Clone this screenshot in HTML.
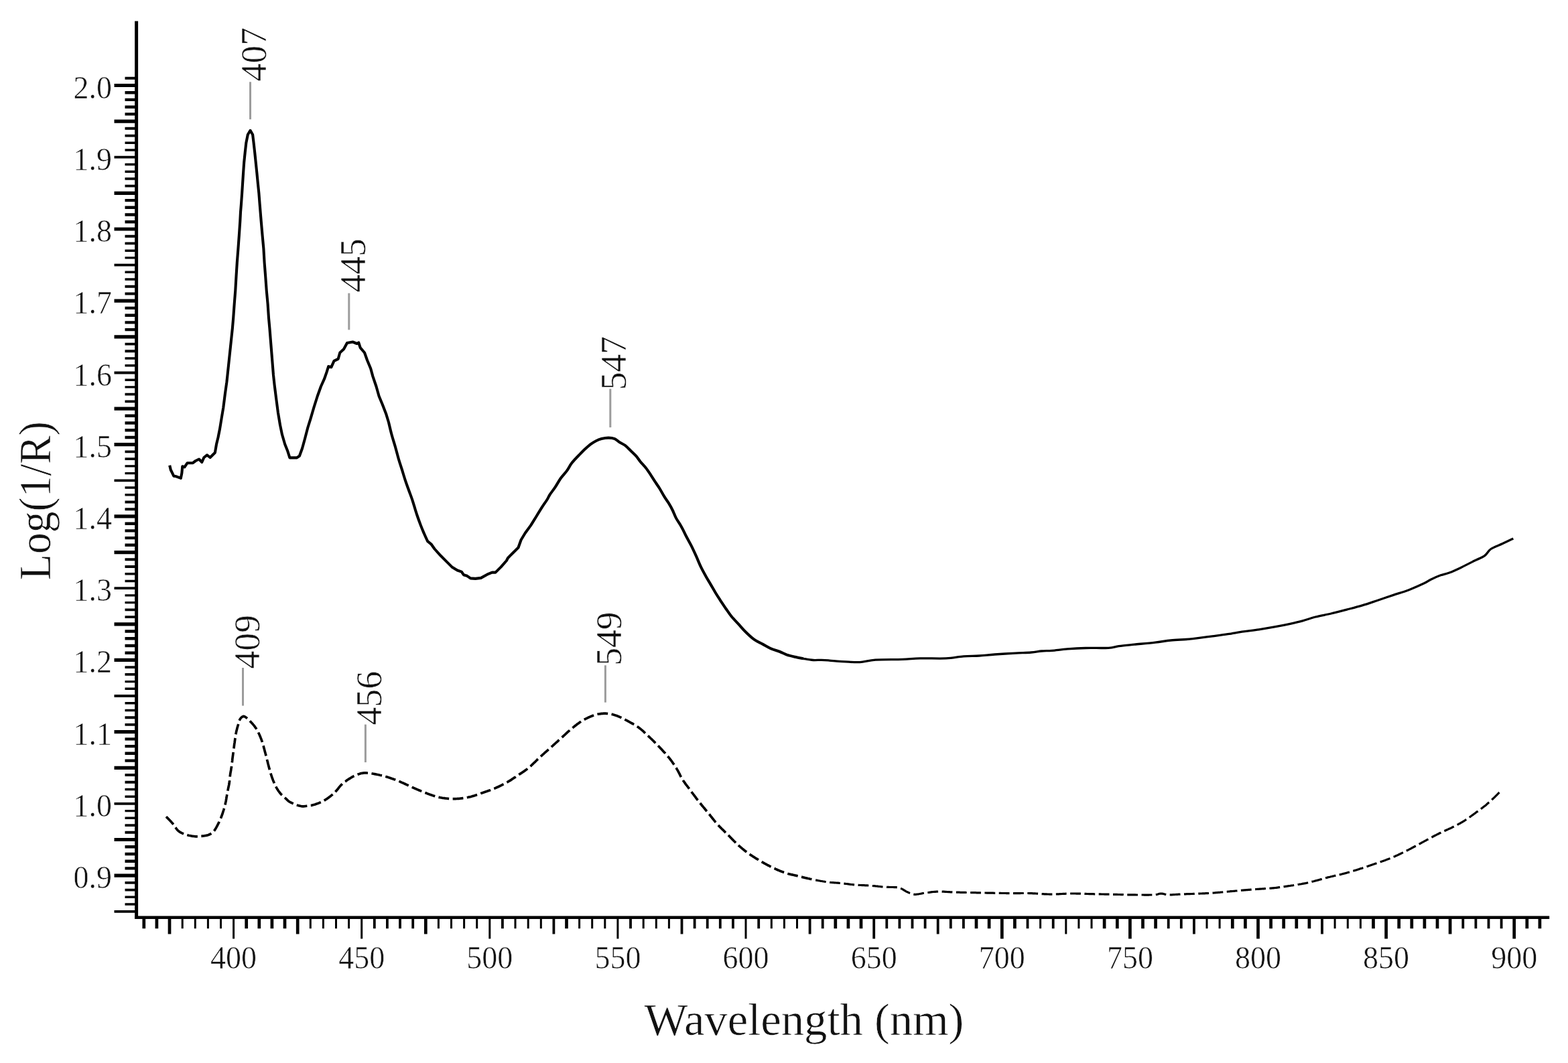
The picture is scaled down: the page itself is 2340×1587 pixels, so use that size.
<!DOCTYPE html>
<html lang="en"><head><meta charset="utf-8"><title>Log(1/R) vs Wavelength</title>
<style>
html,body{margin:0;padding:0;background:#fff;}
body{width:2340px;height:1587px;overflow:hidden;}
svg{display:block;}
text{font-family:"Liberation Serif","DejaVu Serif",serif;fill:#111;}
text{stroke:#fff;stroke-linejoin:round;}
.tk{font-size:49.5px;stroke-width:0.6;}
.an{font-size:54.5px;stroke-width:0.6;}
.ti{font-size:67px;stroke-width:0.6;}
</style></head><body>
<svg width="2340" height="1587" viewBox="0 0 2340 1587">
<rect width="2340" height="1587" fill="#fff"/>
<g stroke="#000" fill="none" stroke-linecap="butt">
<path d="M203.6 31.4 V1372.1" stroke-width="5.0"/>
<path d="M201.1 1369.8 H2312.2" stroke-width="4.6"/>
<path d="M170.5 1360.8H203.6M170.5 1199.9H203.6M170.5 1039.0H203.6M170.5 878.2H203.6M170.5 717.3H203.6M170.5 556.5H203.6M170.5 395.6H203.6M170.5 234.7H203.6" stroke-width="3.8"/>
<path d="M170.5 1307.1H203.6M170.5 1253.5H203.6M170.5 1146.3H203.6M170.5 1092.7H203.6M170.5 985.4H203.6M170.5 931.8H203.6M170.5 824.6H203.6M170.5 770.9H203.6M170.5 663.7H203.6M170.5 610.1H203.6M170.5 502.8H203.6M170.5 449.2H203.6M170.5 342.0H203.6M170.5 288.4H203.6M170.5 181.1H203.6M170.5 127.5H203.6" stroke-width="5.2"/>
<path d="M186.5 1328.6H203.6M186.5 1317.9H203.6M186.5 1242.8H203.6M186.5 1232.1H203.6M186.5 1167.7H203.6M186.5 1157.0H203.6M186.5 1081.9H203.6M186.5 1071.2H203.6M186.5 1006.9H203.6M186.5 996.1H203.6M186.5 921.1H203.6M186.5 910.4H203.6M186.5 846.0H203.6M186.5 835.3H203.6M186.5 760.2H203.6M186.5 749.5H203.6M186.5 685.1H203.6M186.5 674.4H203.6M186.5 599.4H203.6M186.5 588.6H203.6M186.5 524.3H203.6M186.5 513.6H203.6M186.5 438.5H203.6M186.5 427.8H203.6M186.5 363.4H203.6M186.5 352.7H203.6M186.5 277.6H203.6M186.5 266.9H203.6M186.5 202.6H203.6M186.5 191.8H203.6M186.5 116.8H203.6" stroke-width="3.9"/>
<path d="M186.5 1350.0H203.6M186.5 1339.3H203.6M186.5 1221.3H203.6M186.5 1210.6H203.6M186.5 1189.2H203.6M186.5 1178.5H203.6M186.5 1060.5H203.6M186.5 1049.8H203.6M186.5 1028.3H203.6M186.5 1017.6H203.6M186.5 899.6H203.6M186.5 888.9H203.6M186.5 867.5H203.6M186.5 856.7H203.6M186.5 738.8H203.6M186.5 728.0H203.6M186.5 706.6H203.6M186.5 695.9H203.6M186.5 577.9H203.6M186.5 567.2H203.6M186.5 545.7H203.6M186.5 535.0H203.6M186.5 417.0H203.6M186.5 406.3H203.6M186.5 384.9H203.6M186.5 374.2H203.6M186.5 256.2H203.6M186.5 245.5H203.6M186.5 224.0H203.6M186.5 213.3H203.6" stroke-width="3.4"/>
<path d="M186.5 1296.4H203.6M186.5 1285.7H203.6M186.5 1275.0H203.6M186.5 1264.2H203.6M186.5 1135.6H203.6M186.5 1124.8H203.6M186.5 1114.1H203.6M186.5 1103.4H203.6M186.5 974.7H203.6M186.5 964.0H203.6M186.5 953.2H203.6M186.5 942.5H203.6M186.5 813.8H203.6M186.5 803.1H203.6M186.5 792.4H203.6M186.5 781.7H203.6M186.5 653.0H203.6M186.5 642.3H203.6M186.5 631.5H203.6M186.5 620.8H203.6M186.5 492.1H203.6M186.5 481.4H203.6M186.5 470.7H203.6M186.5 459.9H203.6M186.5 331.3H203.6M186.5 320.5H203.6M186.5 309.8H203.6M186.5 299.1H203.6M186.5 170.4H203.6M186.5 159.7H203.6M186.5 148.9H203.6M186.5 138.2H203.6" stroke-width="4.4"/>
<path d="M558.8 1369.8V1386.2M577.9 1369.8V1386.2M597.0 1369.8V1386.2M616.2 1369.8V1386.2M749.9 1369.8V1386.2M826.4 1369.8V1394.4M941.0 1369.8V1386.2M1017.5 1369.8V1394.4M1036.6 1369.8V1386.2M1055.7 1369.8V1386.2M1074.8 1369.8V1386.2M1093.9 1369.8V1386.2M1132.2 1369.8V1386.2M1208.6 1369.8V1394.4M1227.7 1369.8V1386.2M1304.2 1369.8V1401.4M1323.3 1369.8V1386.2M1342.4 1369.8V1386.2M1361.5 1369.8V1386.2M1380.6 1369.8V1386.2M1399.7 1369.8V1394.4M1418.8 1369.8V1386.2M1437.9 1369.8V1386.2M1533.5 1369.8V1386.2M1571.7 1369.8V1386.2M1743.7 1369.8V1386.2M1762.8 1369.8V1386.2M1781.9 1369.8V1394.4M1973.0 1369.8V1394.4M2183.3 1369.8V1386.2M2202.4 1369.8V1386.2M2221.5 1369.8V1386.2M2240.6 1369.8V1386.2" stroke-width="3.8"/>
<path d="M272.2 1369.8V1386.2M291.3 1369.8V1386.2M310.4 1369.8V1386.2M329.5 1369.8V1386.2M348.6 1369.8V1401.4M463.3 1369.8V1386.2M482.4 1369.8V1386.2M501.5 1369.8V1386.2M520.6 1369.8V1386.2M539.7 1369.8V1401.4M654.4 1369.8V1386.2M673.5 1369.8V1386.2M692.6 1369.8V1386.2M711.7 1369.8V1386.2M730.8 1369.8V1401.4M769.0 1369.8V1386.2M788.2 1369.8V1386.2M807.3 1369.8V1386.2M864.6 1369.8V1386.2M883.7 1369.8V1386.2M902.8 1369.8V1386.2M921.9 1369.8V1401.4M960.2 1369.8V1386.2M979.3 1369.8V1386.2M998.4 1369.8V1386.2M1113.0 1369.8V1401.4M1151.3 1369.8V1386.2M1170.4 1369.8V1386.2M1189.5 1369.8V1386.2M1552.6 1369.8V1386.2M1590.8 1369.8V1394.4M1609.9 1369.8V1386.2M1629.0 1369.8V1386.2M1801.0 1369.8V1386.2M1820.1 1369.8V1386.2M1992.1 1369.8V1386.2M2011.3 1369.8V1386.2M2030.4 1369.8V1386.2" stroke-width="3.0"/>
<path d="M214.8 1369.8V1386.2M233.9 1369.8V1386.2M253.0 1369.8V1394.4M367.7 1369.8V1386.2M386.8 1369.8V1386.2M405.9 1369.8V1386.2M425.0 1369.8V1386.2M444.2 1369.8V1394.4M635.3 1369.8V1394.4M845.5 1369.8V1386.2M1246.8 1369.8V1386.2M1265.9 1369.8V1386.2M1285.0 1369.8V1386.2M1457.0 1369.8V1386.2M1476.1 1369.8V1386.2M1495.3 1369.8V1401.4M1514.4 1369.8V1386.2M1648.1 1369.8V1386.2M1667.3 1369.8V1386.2M1686.4 1369.8V1401.4M1705.5 1369.8V1386.2M1724.6 1369.8V1386.2M1839.3 1369.8V1386.2M1858.4 1369.8V1386.2M1877.5 1369.8V1401.4M1896.6 1369.8V1386.2M1915.7 1369.8V1386.2M1934.8 1369.8V1386.2M1953.9 1369.8V1386.2M2049.5 1369.8V1386.2M2068.6 1369.8V1401.4M2087.7 1369.8V1386.2M2106.8 1369.8V1386.2M2125.9 1369.8V1386.2M2145.0 1369.8V1386.2M2164.1 1369.8V1394.4M2259.7 1369.8V1401.4M2278.8 1369.8V1386.2M2297.9 1369.8V1386.2" stroke-width="4.7"/>
</g>
<g class="tk" text-anchor="end">
<text transform="translate(167.0 1326.1) scale(0.930 1)">0.9</text>
<text transform="translate(167.0 1218.9) scale(0.930 1)">1.0</text>
<text transform="translate(167.0 1111.7) scale(0.930 1)">1.1</text>
<text transform="translate(167.0 1004.4) scale(0.930 1)">1.2</text>
<text transform="translate(167.0 897.2) scale(0.930 1)">1.3</text>
<text transform="translate(167.0 789.9) scale(0.930 1)">1.4</text>
<text transform="translate(167.0 682.7) scale(0.930 1)">1.5</text>
<text transform="translate(167.0 575.5) scale(0.930 1)">1.6</text>
<text transform="translate(167.0 468.2) scale(0.930 1)">1.7</text>
<text transform="translate(167.0 361.0) scale(0.930 1)">1.8</text>
<text transform="translate(167.0 253.7) scale(0.930 1)">1.9</text>
<text transform="translate(167.0 146.5) scale(0.930 1)">2.0</text>
</g>
<g class="tk" text-anchor="middle">
<text transform="translate(348.6 1446.3) scale(0.930 1)">400</text>
<text transform="translate(539.7 1446.3) scale(0.930 1)">450</text>
<text transform="translate(730.8 1446.3) scale(0.930 1)">500</text>
<text transform="translate(921.9 1446.3) scale(0.930 1)">550</text>
<text transform="translate(1113.0 1446.3) scale(0.930 1)">600</text>
<text transform="translate(1304.2 1446.3) scale(0.930 1)">650</text>
<text transform="translate(1495.3 1446.3) scale(0.930 1)">700</text>
<text transform="translate(1686.4 1446.3) scale(0.930 1)">750</text>
<text transform="translate(1877.5 1446.3) scale(0.930 1)">800</text>
<text transform="translate(2068.6 1446.3) scale(0.930 1)">850</text>
<text transform="translate(2259.7 1446.3) scale(0.930 1)">900</text>
</g>
<text class="ti" transform="translate(1200.0 1544.6) scale(1.025 1)" text-anchor="middle">Wavelength (nm)</text>
<text class="ti" transform="translate(74.6 747.5) rotate(-90) scale(0.950 1)" text-anchor="middle">Log(1/R)</text>
<g stroke="#9c9c9c" stroke-width="3.0" fill="none">
<path d="M373.5 122.3 V178.2"/>
<path d="M520.8 437.7 V492.4"/>
<path d="M910.8 580.5 V638.1"/>
<path d="M362.5 997.0 V1053.6"/>
<path d="M545.4 1081.6 V1138.1"/>
<path d="M903.4 993.3 V1048.7"/>
</g>
<g class="an">
<text transform="translate(397.3 121.5) rotate(-90) scale(0.985 1)">407</text>
<text transform="translate(544.6 436.6) rotate(-90) scale(0.985 1)">445</text>
<text transform="translate(934.4 582.3) rotate(-90) scale(0.985 1)">547</text>
<text transform="translate(386.5 998.5) rotate(-90) scale(0.985 1)">409</text>
<text transform="translate(569.0 1082.5) rotate(-90) scale(0.985 1)">456</text>
<text transform="translate(926.8 993.8) rotate(-90) scale(0.985 1)">549</text>
</g>
<g stroke="#000" fill="none" stroke-linejoin="round" stroke-linecap="butt">
<path d="M253.2 694.8L254.8 701.5L259.4 710.8L263.0 711.3L269.8 713.9L271.3 706.6L272.3 696.3L275.4 697.4L279.6 691.2L287.8 691.2L292.0 688.0L297.0 685.5L301.3 690.0L304.4 683.0L309.0 679.3L313.6 683.0L320.9 675.7L323.0 663.3L325.5 653.0L328.0 640.5L330.7 624.0L333.3 608.5L335.9 587.9L338.4 570.3L339.5 560.0L346.9 490.0L348.2 474.6L349.7 453.9L351.3 433.3L352.5 412.6L353.8 392.0L355.4 371.3L356.9 350.7L358.3 330.0L359.0 316.7L360.0 304.3L361.1 288.8L362.1 273.3L363.1 257.8L364.2 242.3L365.7 227.8L367.3 213.4L369.8 201.0L373.5 194.8L377.1 201.0L378.6 213.4L380.2 227.8L381.7 242.3L383.3 257.8L384.8 273.3L386.4 288.8L387.6 304.3L388.6 316.7L389.7 330.0L391.5 350.7L393.4 371.3L394.6 392.0L396.2 412.6L397.7 433.3L399.6 453.9L401.0 474.6L402.4 490.0L405.2 525.0L408.0 560.0L409.7 575.5L412.3 596.0L414.9 615.8L418.0 634.4L421.0 648.8L425.2 663.3L429.3 673.6L432.4 683.4L442.7 683.4L446.9 680.8L451.0 669.5L455.0 655.0L459.3 638.5L463.4 625.3L468.5 608.0L473.7 591.5L478.9 577.0L484.0 565.7L487.6 555.4L490.2 547.0L494.4 548.2L498.5 538.9L504.7 535.8L507.3 526.5L513.0 521.3L518.0 512.0L526.4 510.5L532.6 513.0L535.2 511.5L537.7 519.2L544.0 526.5L548.0 537.8L553.2 550.2L556.3 561.6L561.5 577.0L565.6 591.5L570.8 604.0L576.0 617.4L580.0 630.5C580.7 633.5 582.8 642.6 584.4 648.5C586.0 654.4 587.9 660.0 589.6 666.0C591.3 672.0 593.0 678.8 594.7 684.7C596.4 690.6 598.2 695.7 599.9 701.2C601.6 706.7 603.3 712.5 605.0 717.7C606.7 722.9 608.5 727.4 610.2 732.2C611.9 737.0 613.9 742.0 615.4 746.6C616.9 751.2 618.3 756.1 619.5 760.0C620.7 763.9 621.3 765.9 622.7 770.0C624.1 774.1 626.2 779.9 627.9 784.4C629.6 788.9 631.3 792.8 633.0 796.8C634.7 800.8 637.3 806.3 638.2 808.2L643.4 812.3L648.5 819.5L657.8 829.8L666.1 838.1L674.4 846.4L682.6 851.5L688.8 853.6L691.9 858.2L697.1 859.8L702.2 863.4L709.5 863.9L717.7 862.9L727.0 857.7L734.3 854.6L739.4 854.6L747.7 846.4L755.9 837.0L758.0 833.0L765.2 825.7L773.5 817.5L777.6 806.0L783.8 795.8L792.1 784.4C793.5 782.2 797.6 775.5 800.4 771.0C803.1 766.5 805.9 761.9 808.6 757.6C811.4 753.3 815.0 748.3 816.9 745.2C818.8 742.1 818.4 741.8 820.3 738.8C822.2 735.8 825.8 731.5 828.5 727.4C831.2 723.3 833.9 718.1 836.8 714.0C839.7 709.9 843.4 706.4 846.1 702.6C848.9 698.8 850.2 695.2 853.3 691.3C856.4 687.3 861.4 682.3 864.7 678.9C868.0 675.5 870.2 673.2 873.0 670.6C875.8 668.0 878.5 665.5 881.2 663.4C884.0 661.3 886.8 659.6 889.5 658.2C892.2 656.8 894.6 655.9 897.7 655.1C900.8 654.3 904.7 653.6 908.0 653.6C911.3 653.6 914.6 654.0 917.4 655.1C920.2 656.2 922.0 658.7 924.6 660.3C927.2 661.9 930.0 662.8 932.8 664.9C935.5 667.0 938.3 670.0 941.1 672.7C943.9 675.4 947.0 678.1 949.4 680.9C951.8 683.6 953.2 686.3 955.6 689.2C958.0 692.1 961.2 695.2 963.8 698.5C966.4 701.8 968.6 705.2 971.0 708.8C973.4 712.4 976.0 716.8 978.3 720.2C980.5 723.7 982.3 725.9 984.5 729.5C986.7 733.1 989.5 738.3 991.7 741.9C993.9 745.5 995.8 747.8 997.9 751.2C1000.0 754.6 1002.3 758.8 1004.1 762.5C1005.9 766.2 1006.7 769.3 1008.9 773.4C1011.1 777.5 1014.6 782.2 1017.2 786.9C1019.8 791.5 1022.0 796.7 1024.4 801.3C1026.8 805.9 1029.2 809.9 1031.6 814.7C1034.0 819.5 1036.5 824.9 1038.9 830.2C1041.3 835.5 1043.7 841.7 1046.1 846.7C1048.5 851.7 1050.9 855.9 1053.3 860.2C1055.7 864.5 1058.2 868.5 1060.6 872.6C1063.0 876.7 1065.4 881.0 1067.8 885.0C1070.2 889.0 1072.4 892.3 1075.0 896.3C1077.6 900.2 1080.5 904.7 1083.3 908.7C1086.1 912.7 1088.5 916.5 1091.6 920.3C1094.7 924.1 1098.5 927.8 1102.0 931.6C1105.5 935.4 1108.3 939.1 1112.3 943.0C1116.2 946.9 1121.4 951.8 1125.7 954.9C1130.0 958.0 1134.0 959.4 1138.1 961.6C1142.2 963.8 1146.2 966.4 1150.5 968.3C1154.8 970.2 1159.9 971.5 1163.9 973.0C1167.9 974.5 1170.5 976.3 1174.3 977.6C1178.1 978.9 1182.5 979.8 1186.6 980.7C1190.7 981.7 1196.9 982.9 1199.0 983.3" stroke-width="4.1"/>
<path d="M1199.0 983.3C1201.4 983.7 1209.0 985.2 1213.5 985.5C1218.0 985.8 1222.1 985.2 1225.9 985.3C1229.7 985.4 1232.8 985.6 1236.2 985.9C1239.6 986.2 1242.2 986.6 1246.5 986.9C1250.8 987.2 1255.9 987.6 1262.0 987.9C1268.1 988.2 1275.8 989.0 1283.2 988.6C1290.6 988.2 1295.9 985.9 1306.5 985.2C1317.1 984.5 1335.6 984.8 1346.7 984.4C1357.8 984.0 1362.2 983.1 1373.0 982.9C1383.8 982.6 1401.0 983.4 1411.8 982.9C1422.6 982.4 1429.8 980.4 1438.1 979.8C1446.4 979.1 1453.7 979.5 1461.4 979.0C1469.2 978.5 1475.6 977.6 1484.6 977.0C1493.6 976.4 1506.6 975.6 1515.6 975.1C1524.6 974.6 1532.3 974.5 1538.8 974.0C1545.2 973.5 1549.1 972.5 1554.3 972.0C1559.5 971.5 1563.3 971.8 1569.8 971.3C1576.2 970.8 1584.6 969.5 1593.0 968.9C1601.4 968.3 1609.8 967.8 1620.0 967.5C1630.2 967.2 1645.9 967.8 1654.2 967.3C1662.5 966.8 1663.2 965.5 1669.7 964.6C1676.2 963.8 1683.9 963.1 1692.9 962.2C1701.9 961.3 1714.9 960.1 1723.9 959.1C1732.9 958.1 1739.3 956.8 1747.1 956.0C1754.8 955.2 1763.9 955.0 1770.4 954.5C1776.9 954.0 1779.5 953.7 1785.9 952.9C1792.4 952.1 1801.4 950.8 1809.1 949.8C1816.8 948.8 1824.5 947.9 1832.3 946.7C1840.0 945.6 1847.8 944.0 1855.6 942.9C1863.3 941.8 1871.1 941.0 1878.8 939.8C1886.5 938.6 1894.2 937.3 1902.0 935.9C1909.8 934.5 1918.3 932.8 1925.3 931.3C1932.3 929.8 1937.7 928.6 1944.0 926.9C1950.3 925.2 1956.1 922.8 1963.2 921.0C1970.3 919.2 1978.8 917.8 1986.5 916.0C1994.2 914.2 2002.0 912.1 2009.7 910.1C2017.4 908.1 2025.2 906.2 2032.9 903.9C2040.7 901.6 2048.4 898.8 2056.2 896.2C2063.9 893.6 2071.7 891.0 2079.4 888.4C2087.1 885.8 2094.8 883.7 2102.6 880.7C2110.3 877.7 2120.5 873.2 2125.9 870.6C2131.3 868.0 2131.2 867.2 2135.2 865.2C2139.2 863.2 2145.4 860.5 2150.0 858.8C2154.6 857.1 2158.0 856.9 2163.0 855.0C2168.0 853.1 2173.9 850.4 2180.1 847.4C2186.3 844.4 2194.3 840.3 2200.2 837.3C2206.1 834.3 2211.6 832.6 2215.7 829.6C2219.8 826.6 2220.6 822.5 2225.0 819.5C2229.4 816.5 2236.4 814.4 2242.0 811.8C2247.6 809.2 2255.6 805.3 2258.3 804.0" stroke-width="3.3"/>
<path d="M2237.5 1183.0L2236.8 1183.7L2235.9 1184.7L2234.8 1185.8L2233.5 1187.1L2232.2 1188.4L2230.8 1189.8L2229.4 1191.2L2228.0 1192.5L2227.0 1193.4L2226.0 1194.4L2224.9 1195.4L2223.8 1196.3L2222.7 1197.3L2221.6 1198.3L2220.5 1199.3L2219.3 1200.3L2218.1 1201.4L2216.9 1202.4L2215.6 1203.4L2214.4 1204.3L2213.2 1205.3L2211.9 1206.3L2210.7 1207.2L2209.4 1208.2L2208.0 1209.2L2206.7 1210.2L2205.4 1211.2L2204.0 1212.1L2202.7 1213.1L2201.4 1214.1L2200.1 1215.0L2198.8 1215.9L2197.5 1216.9L2196.2 1217.8L2194.9 1218.7L2193.6 1219.7L2192.3 1220.6L2191.1 1221.5L2189.8 1222.4L2188.5 1223.3L2187.2 1224.1L2185.9 1225.0L2184.6 1225.8L2183.2 1226.7L2181.9 1227.5L2180.6 1228.2L2179.3 1229.0L2178.0 1229.7L2176.7 1230.4L2175.3 1231.1L2173.9 1231.9L2172.4 1232.6L2170.8 1233.4L2169.1 1234.3L2167.9 1234.9L2166.7 1235.5L2165.5 1236.1L2164.2 1236.7L2162.8 1237.3L2161.5 1237.9L2160.1 1238.5L2158.7 1239.2L2157.3 1239.8L2155.8 1240.5L2154.4 1241.1L2153.0 1241.8L2151.5 1242.5L2150.1 1243.2L2148.7 1243.8L2147.3 1244.5L2145.9 1245.2L2144.5 1245.9L2143.2 1246.6L2141.8 1247.3L2140.4 1248.0L2139.1 1248.7L2137.7 1249.5L2136.3 1250.2L2134.9 1250.9L2133.6 1251.7L2132.2 1252.4L2130.8 1253.2L2129.4 1253.9L2128.1 1254.7L2126.7 1255.4L2125.3 1256.1L2124.0 1256.9L2122.6 1257.6L2121.2 1258.3L2119.9 1259.1L2118.5 1259.8L2117.1 1260.6L2115.8 1261.3L2114.4 1262.0L2113.0 1262.8L2111.7 1263.5L2110.3 1264.3L2108.9 1265.0L2107.6 1265.7L2106.2 1266.5L2104.9 1267.2L2103.5 1267.9L2102.1 1268.6L2100.8 1269.3L2099.4 1270.0L2098.0 1270.7L2096.7 1271.4L2095.3 1272.0L2093.9 1272.7L2092.6 1273.4L2091.2 1274.0L2089.9 1274.7L2088.5 1275.3L2087.1 1276.0L2085.8 1276.6L2084.4 1277.2L2083.0 1277.8L2081.7 1278.5L2080.3 1279.1L2078.9 1279.6L2077.6 1280.2L2076.2 1280.8L2074.7 1281.4L2073.3 1282.0L2071.8 1282.5L2070.4 1283.1L2068.9 1283.6L2067.5 1284.2L2066.0 1284.7L2064.6 1285.2L2063.1 1285.8L2061.6 1286.3L2060.2 1286.8L2058.7 1287.3L2057.3 1287.8L2055.8 1288.3L2054.4 1288.8L2052.9 1289.3L2051.4 1289.8L2050.0 1290.3L2048.5 1290.8L2047.1 1291.3L2045.6 1291.8L2044.2 1292.3L2042.7 1292.8L2041.3 1293.3L2039.8 1293.8L2038.4 1294.3L2036.9 1294.8L2035.5 1295.2L2034.0 1295.7L2032.6 1296.2L2031.1 1296.6L2029.7 1297.1L2028.3 1297.6L2026.8 1298.0L2025.4 1298.5L2023.9 1298.9L2022.5 1299.4L2021.0 1299.8L2019.6 1300.3L2018.1 1300.7L2016.7 1301.1L2015.2 1301.6L2013.8 1302.0L2012.3 1302.4L2010.9 1302.8L2009.4 1303.2L2008.0 1303.6L2006.5 1304.0L2004.9 1304.4L2003.4 1304.8L2001.8 1305.2L2000.2 1305.6L1998.6 1306.0L1996.9 1306.3L1995.3 1306.7L1993.7 1307.0L1992.2 1307.4L1990.6 1307.8L1989.1 1308.1L1987.5 1308.5L1986.1 1308.8L1984.6 1309.2L1983.2 1309.5L1981.5 1309.9L1979.9 1310.4L1978.3 1310.8L1976.8 1311.2L1975.3 1311.6L1973.8 1312.1L1972.3 1312.5L1970.9 1312.9L1969.4 1313.3L1968.0 1313.7L1966.5 1314.1L1965.0 1314.5L1963.5 1314.9L1962.0 1315.3L1960.5 1315.7L1959.1 1316.0L1957.6 1316.4L1956.1 1316.8L1954.6 1317.1L1953.1 1317.5L1951.5 1317.9L1950.0 1318.2L1948.3 1318.6L1946.6 1318.9L1945.2 1319.2L1943.7 1319.4L1942.3 1319.7L1940.7 1320.0L1939.2 1320.2L1937.6 1320.5L1936.0 1320.8L1934.5 1321.0L1932.8 1321.3L1931.2 1321.5L1929.6 1321.8L1928.0 1322.0L1926.4 1322.2L1924.9 1322.5L1923.3 1322.7L1921.8 1322.9L1920.2 1323.2L1918.7 1323.4L1917.1 1323.6L1915.6 1323.8L1914.0 1324.1L1912.5 1324.3L1910.9 1324.5L1909.4 1324.7L1907.8 1324.9L1906.3 1325.1L1904.7 1325.3L1903.2 1325.5L1901.6 1325.6L1900.1 1325.8L1898.6 1325.9L1897.0 1326.1L1895.5 1326.2L1893.9 1326.3L1892.4 1326.4L1890.8 1326.5L1889.3 1326.6L1887.7 1326.7L1886.2 1326.8L1884.6 1326.9L1883.1 1327.0L1881.5 1327.1L1880.0 1327.2L1878.4 1327.3L1876.9 1327.4L1875.3 1327.5L1873.8 1327.6L1872.2 1327.7L1870.7 1327.9L1869.1 1328.0L1867.6 1328.1L1866.0 1328.2L1864.5 1328.3L1862.9 1328.4L1861.4 1328.6L1859.8 1328.7L1858.3 1328.8L1856.7 1328.9L1855.2 1329.1L1853.6 1329.2L1852.1 1329.3L1850.5 1329.5L1849.0 1329.6L1847.4 1329.7L1845.9 1329.9L1844.3 1330.0L1842.8 1330.2L1841.2 1330.3L1839.7 1330.5L1838.1 1330.6L1836.6 1330.7L1835.0 1330.9L1833.5 1331.0L1831.9 1331.2L1830.4 1331.3L1828.8 1331.4L1827.3 1331.6L1825.7 1331.7L1824.2 1331.9L1822.6 1332.0L1821.1 1332.2L1819.5 1332.3L1818.0 1332.4L1816.4 1332.6L1814.9 1332.7L1813.3 1332.8L1811.8 1333.0L1810.2 1333.1L1808.7 1333.2L1807.1 1333.3L1805.6 1333.4L1804.0 1333.5L1802.5 1333.6L1800.9 1333.6L1799.4 1333.7L1797.8 1333.8L1796.3 1333.8L1794.7 1333.9L1793.2 1334.0L1791.6 1334.0L1790.1 1334.1L1788.5 1334.1L1787.0 1334.2L1785.4 1334.2L1783.9 1334.3L1782.3 1334.4L1780.8 1334.4L1779.2 1334.5L1777.6 1334.5L1775.9 1334.6L1774.3 1334.6L1772.7 1334.7L1771.1 1334.7L1769.5 1334.8L1768.0 1334.8L1766.4 1334.9L1764.9 1334.9L1763.5 1335.0L1762.1 1335.0L1760.7 1335.1L1758.9 1335.2L1757.1 1335.3L1755.4 1335.4L1753.8 1335.5L1752.2 1335.6L1750.6 1335.7L1749.1 1335.8L1747.6 1335.9L1746.2 1335.9L1744.9 1335.9L1743.6 1335.9L1741.7 1335.7L1740.1 1335.4L1738.5 1335.1L1737.1 1334.7L1735.7 1334.3L1734.3 1334.1L1732.8 1334.0L1731.4 1334.1L1730.3 1334.3L1729.2 1334.6L1728.0 1335.0L1726.6 1335.4L1724.6 1335.7L1722.0 1335.9L1720.9 1335.9L1719.7 1336.0L1718.4 1336.0L1717.1 1336.0L1715.7 1336.0L1714.2 1336.1L1712.6 1336.1L1711.0 1336.1L1709.4 1336.1L1707.7 1336.1L1706.0 1336.0L1704.3 1336.0L1702.6 1336.0L1700.9 1336.0L1699.2 1336.0L1697.5 1336.0L1695.8 1336.0L1694.2 1335.9L1692.6 1335.9L1691.0 1335.9L1689.5 1335.9L1688.0 1335.9L1686.4 1335.8L1684.9 1335.8L1683.4 1335.8L1681.9 1335.8L1680.4 1335.7L1678.9 1335.7L1677.4 1335.7L1675.9 1335.6L1674.4 1335.6L1672.9 1335.6L1671.4 1335.5L1669.9 1335.5L1668.4 1335.5L1666.9 1335.4L1665.4 1335.4L1663.8 1335.4L1662.3 1335.3L1660.8 1335.3L1659.3 1335.3L1657.7 1335.2L1656.2 1335.2L1654.7 1335.2L1653.1 1335.2L1651.6 1335.1L1650.0 1335.1L1648.5 1335.1L1646.9 1335.0L1645.3 1335.0L1643.8 1335.0L1642.2 1334.9L1640.7 1334.9L1639.1 1334.9L1637.6 1334.9L1636.0 1334.8L1634.5 1334.8L1632.9 1334.8L1631.4 1334.7L1629.8 1334.7L1628.2 1334.7L1626.7 1334.6L1625.1 1334.6L1623.6 1334.5L1622.0 1334.5L1620.5 1334.4L1619.0 1334.4L1617.4 1334.3L1615.8 1334.3L1614.3 1334.2L1612.8 1334.2L1611.2 1334.2L1609.6 1334.1L1608.1 1334.1L1606.5 1334.1L1605.0 1334.0L1603.4 1334.0L1601.9 1334.0L1600.3 1334.0L1598.8 1334.0L1597.2 1334.0L1595.7 1334.0L1594.1 1334.1L1592.6 1334.1L1591.0 1334.2L1589.5 1334.3L1587.9 1334.4L1586.4 1334.4L1584.8 1334.5L1583.3 1334.6L1581.7 1334.7L1580.2 1334.8L1578.6 1334.8L1577.1 1334.9L1575.5 1335.0L1574.0 1335.0L1572.4 1335.1L1570.9 1335.1L1569.3 1335.1L1567.8 1335.1L1566.3 1335.1L1564.7 1335.0L1563.2 1335.0L1561.6 1334.9L1560.1 1334.9L1558.5 1334.8L1557.0 1334.7L1555.4 1334.6L1553.9 1334.5L1552.3 1334.4L1550.8 1334.3L1549.3 1334.2L1547.7 1334.1L1546.2 1334.0L1544.6 1333.9L1543.1 1333.8L1541.5 1333.8L1540.0 1333.7L1538.4 1333.6L1536.9 1333.6L1535.4 1333.6L1533.9 1333.5L1532.4 1333.5L1531.0 1333.5L1529.5 1333.5L1528.1 1333.5L1526.7 1333.5L1525.3 1333.5L1523.8 1333.5L1522.4 1333.6L1520.9 1333.6L1519.4 1333.6L1517.9 1333.6L1516.3 1333.6L1514.7 1333.6L1513.1 1333.6L1511.4 1333.6L1509.6 1333.6L1507.8 1333.6L1505.9 1333.6L1504.6 1333.6L1503.3 1333.6L1502.0 1333.6L1500.6 1333.5L1499.2 1333.5L1497.7 1333.5L1496.3 1333.5L1494.8 1333.5L1493.3 1333.4L1491.7 1333.4L1490.2 1333.4L1488.6 1333.3L1487.0 1333.3L1485.4 1333.3L1483.8 1333.3L1482.2 1333.2L1480.6 1333.2L1479.0 1333.2L1477.4 1333.1L1475.8 1333.1L1474.3 1333.1L1472.7 1333.1L1471.1 1333.0L1469.6 1333.0L1468.0 1333.0L1466.5 1332.9L1465.1 1332.9L1463.6 1332.9L1462.2 1332.9L1460.8 1332.8L1459.4 1332.8L1457.7 1332.8L1455.9 1332.7L1454.2 1332.7L1452.5 1332.7L1450.8 1332.6L1449.1 1332.6L1447.4 1332.6L1445.7 1332.5L1444.1 1332.5L1442.5 1332.5L1440.8 1332.4L1439.2 1332.4L1437.7 1332.4L1436.1 1332.3L1434.6 1332.3L1433.1 1332.3L1431.6 1332.2L1430.2 1332.2L1428.8 1332.2L1427.4 1332.1L1426.0 1332.1L1424.7 1332.1L1423.4 1332.0L1422.2 1332.0L1420.2 1331.9L1418.3 1331.8L1416.5 1331.7L1414.8 1331.6L1413.2 1331.5L1411.7 1331.4L1410.2 1331.3L1408.8 1331.2L1407.5 1331.1L1406.1 1331.1L1404.7 1331.0L1403.3 1331.0L1401.9 1331.0L1400.5 1331.0L1398.9 1331.1L1397.3 1331.1L1395.8 1331.3L1394.2 1331.4L1392.7 1331.5L1391.1 1331.7L1389.6 1331.9L1388.1 1332.1L1386.7 1332.3L1385.2 1332.5L1383.8 1332.6L1382.4 1332.8L1381.0 1333.0L1379.2 1333.2L1377.5 1333.5L1375.8 1333.9L1374.2 1334.2L1372.6 1334.5L1371.0 1334.8L1369.4 1335.0L1367.9 1335.2L1366.5 1335.3L1365.1 1335.3L1363.4 1335.1L1361.9 1334.8L1360.5 1334.4L1359.1 1333.9L1357.7 1333.4L1356.3 1332.8L1355.0 1332.1L1353.5 1331.5L1352.2 1330.9L1351.0 1330.2L1349.8 1329.4L1348.6 1328.6L1347.3 1327.8L1346.0 1327.1L1344.5 1326.4L1343.0 1325.8L1341.2 1325.3L1340.0 1325.1L1338.6 1324.9L1337.2 1324.7L1335.8 1324.6L1334.3 1324.6L1332.7 1324.5L1331.2 1324.5L1329.6 1324.5L1327.9 1324.5L1326.3 1324.4L1324.7 1324.4L1323.1 1324.4L1321.5 1324.3L1320.0 1324.2L1318.5 1324.1L1317.0 1324.0L1315.5 1323.8L1314.0 1323.7L1312.5 1323.5L1311.0 1323.4L1309.5 1323.2L1308.0 1323.0L1306.5 1322.9L1305.0 1322.7L1303.5 1322.6L1301.9 1322.5L1300.4 1322.3L1298.8 1322.2L1297.3 1322.1L1295.8 1322.0L1294.2 1321.9L1292.7 1321.9L1291.1 1321.8L1289.5 1321.7L1287.9 1321.7L1286.3 1321.6L1284.8 1321.5L1283.2 1321.5L1281.6 1321.4L1280.1 1321.3L1278.6 1321.2L1277.1 1321.1L1275.6 1321.0L1273.9 1320.9L1272.3 1320.7L1270.7 1320.5L1269.1 1320.3L1267.5 1320.1L1266.0 1319.9L1264.4 1319.7L1262.9 1319.5L1261.4 1319.3L1259.9 1319.1L1258.4 1318.9L1256.9 1318.8L1255.4 1318.6L1253.8 1318.5L1252.3 1318.3L1250.8 1318.2L1249.3 1318.1L1247.8 1318.0L1246.3 1317.9L1244.9 1317.8L1243.4 1317.7L1241.8 1317.6L1240.2 1317.5L1238.6 1317.3L1236.9 1317.1L1235.5 1316.9L1234.0 1316.7L1232.5 1316.5L1231.0 1316.3L1229.5 1316.0L1227.9 1315.8L1226.3 1315.5L1224.7 1315.3L1223.1 1315.0L1221.5 1314.7L1219.9 1314.4L1218.3 1314.1L1216.7 1313.8L1215.2 1313.5L1213.6 1313.2" stroke-width="3.2" stroke-dasharray="15.8 5.5"/>
<path d="M1213.6 1313.2L1212.0 1312.9L1210.5 1312.5L1208.9 1312.2L1207.3 1311.8L1205.7 1311.5L1204.1 1311.1L1202.5 1310.7L1200.9 1310.4L1199.3 1310.0L1197.8 1309.6L1196.3 1309.2L1194.7 1308.9L1193.3 1308.5L1191.8 1308.1L1190.4 1307.8L1188.7 1307.4L1187.0 1307.0L1185.4 1306.6L1183.9 1306.3L1182.3 1305.9L1180.8 1305.6L1179.3 1305.2L1177.8 1304.9L1176.3 1304.5L1174.8 1304.0L1173.3 1303.6L1171.8 1303.1L1170.4 1302.6L1168.9 1302.1L1167.5 1301.6L1166.1 1301.0L1164.6 1300.5L1163.2 1299.9L1161.8 1299.3L1160.4 1298.7L1158.9 1298.0L1157.5 1297.4L1156.1 1296.7L1154.6 1296.1L1153.2 1295.4L1151.9 1294.8L1150.5 1294.1L1149.2 1293.4L1147.8 1292.7L1146.5 1292.0L1145.1 1291.3L1143.8 1290.5L1142.5 1289.8L1141.1 1289.1L1139.8 1288.3L1138.5 1287.6L1137.2 1286.8L1135.9 1286.0L1134.6 1285.3L1133.2 1284.5L1131.9 1283.7L1130.5 1282.9L1129.2 1282.1L1127.9 1281.3L1126.6 1280.5L1125.3 1279.6L1124.0 1278.8L1122.7 1278.0L1121.4 1277.1L1120.1 1276.3L1118.9 1275.4L1117.6 1274.5L1116.4 1273.6L1115.1 1272.7L1113.9 1271.8L1112.7 1270.9L1111.5 1270.0L1110.3 1269.1L1109.2 1268.1L1108.0 1267.2L1106.8 1266.2L1105.6 1265.2L1104.5 1264.2L1103.3 1263.2L1102.1 1262.1L1101.0 1261.1L1099.9 1260.0L1098.8 1259.0L1097.7 1257.9L1096.6 1256.8L1095.5 1255.7L1094.3 1254.5L1093.2 1253.4L1092.1 1252.3L1091.0 1251.1L1089.9 1250.0L1088.8 1248.8L1087.7 1247.7L1086.6 1246.6L1085.5 1245.5L1084.4 1244.4L1083.2 1243.3L1082.1 1242.2L1081.0 1241.1L1079.9 1240.0L1078.8 1238.9L1077.6 1237.8L1076.5 1236.7L1075.4 1235.6L1074.3 1234.5L1073.2 1233.4L1072.2 1232.3L1071.1 1231.1L1070.1 1229.9L1069.0 1228.8L1068.0 1227.6L1067.0 1226.4L1066.0 1225.1L1065.0 1223.9L1064.1 1222.7L1063.1 1221.5L1062.1 1220.2L1061.1 1219.0L1060.2 1217.8L1059.2 1216.5L1058.2 1215.3L1057.2 1214.1L1056.2 1212.9L1055.2 1211.7L1054.2 1210.5L1053.2 1209.3L1052.2 1208.0L1051.2 1206.8L1050.2 1205.6L1049.2 1204.4L1048.2 1203.2L1047.2 1202.0L1046.2 1200.7L1045.2 1199.5L1044.2 1198.3L1043.2 1197.0L1042.3 1195.8L1041.3 1194.6L1040.4 1193.4L1039.4 1192.2L1038.5 1190.9L1037.6 1189.7L1036.6 1188.4L1035.7 1187.2L1034.8 1186.0L1033.8 1184.7L1032.9 1183.5L1032.0 1182.3L1031.2 1181.2L1030.3 1180.0L1029.5 1178.9L1028.5 1177.5L1027.5 1176.2L1026.6 1175.0L1025.6 1173.7L1024.7 1172.5L1023.8 1171.3L1022.9 1170.1L1022.1 1168.9L1021.2 1167.7L1020.4 1166.5L1019.5 1165.2L1018.7 1163.9L1017.9 1162.5L1017.1 1161.2L1016.3 1159.8L1015.5 1158.3L1014.8 1156.9L1014.1 1155.4L1013.3 1154.0L1012.6 1152.5L1011.8 1151.1L1011.0 1149.7L1010.2 1148.3L1009.4 1146.9L1008.6 1145.6L1007.7 1144.2L1006.9 1142.9L1006.0 1141.6L1005.1 1140.3L1004.2 1139.1L1003.3 1137.8L1002.4 1136.5L1001.5 1135.2L1000.5 1134.0L999.5 1132.7L998.5 1131.4L997.5 1130.2L996.5 1129.0L995.5 1127.8L994.5 1126.6L993.4 1125.4L992.4 1124.2L991.3 1123.1L990.2 1121.9L989.1 1120.7L988.0 1119.5L986.9 1118.3L985.7 1117.1L984.6 1115.9L983.5 1114.8L982.5 1113.7L981.4 1112.5L980.3 1111.4L979.2 1110.3L978.1 1109.2L977.0 1108.1L975.8 1106.9L974.7 1105.8L973.6 1104.7L972.5 1103.6L971.3 1102.5L970.2 1101.5L969.1 1100.4L967.9 1099.3L966.7 1098.1L965.5 1097.0L964.3 1095.9L963.1 1094.7L961.9 1093.6L960.8 1092.5L959.6 1091.4L958.4 1090.4L957.2 1089.4L956.0 1088.4L954.8 1087.4L953.6 1086.5L952.3 1085.6L951.0 1084.7L949.7 1083.8L948.4 1083.0L947.1 1082.2L945.9 1081.5L944.6 1080.7L943.3 1080.0L942.0 1079.3L940.7 1078.6L939.4 1077.9L938.1 1077.2L936.7 1076.4L935.3 1075.6L933.8 1074.9L932.4 1074.1L931.0 1073.3L929.5 1072.6L928.1 1071.9L926.7 1071.2L925.3 1070.6L923.9 1070.0L922.6 1069.4L921.0 1068.8L919.4 1068.2L917.8 1067.7L916.2 1067.2L914.7 1066.8L913.2 1066.4L911.7 1066.1L910.2 1065.8L908.7 1065.6L907.1 1065.4L905.5 1065.3L903.9 1065.2L902.4 1065.2L900.9 1065.2L899.4 1065.3L897.8 1065.4L896.3 1065.6L894.8 1065.8L893.3 1066.0L891.8 1066.3L890.3 1066.7L888.8 1067.1L887.2 1067.5L885.6 1068.1L883.9 1068.7L882.6 1069.2L881.3 1069.8L879.9 1070.4L878.5 1071.0L877.1 1071.7L875.6 1072.4L874.2 1073.1L872.7 1073.9L871.3 1074.7L869.8 1075.5L868.4 1076.4L867.1 1077.2L865.8 1078.1L864.5 1079.0L863.2 1079.9L861.9 1080.8L860.6 1081.8L859.4 1082.8L858.1 1083.8L856.8 1084.8L855.5 1085.9L854.2 1086.9L852.9 1088.0L851.7 1089.0L850.5 1090.0L849.3 1091.1L848.1 1092.1L846.9 1093.2L845.7 1094.3L844.5 1095.4L843.4 1096.5L842.2 1097.6L841.0 1098.7L839.8 1099.8L838.6 1100.9L837.4 1102.0L836.2 1103.1L835.0 1104.1L833.8 1105.2L832.7 1106.3L831.5 1107.4L830.3 1108.4L829.1 1109.5L827.9 1110.6L826.7 1111.6L825.6 1112.7L824.4 1113.8L823.2 1114.8L822.0 1115.9L820.8 1117.0L819.6 1118.0L818.5 1119.0L817.3 1120.1L816.2 1121.1L815.0 1122.1L813.8 1123.2L812.6 1124.2L811.5 1125.3L810.2 1126.4L809.0 1127.5L807.8 1128.6L806.5 1129.8L805.4 1130.8L804.4 1131.8L803.2 1132.9L802.1 1133.9L801.0 1135.0L799.8 1136.2L798.7 1137.3L797.5 1138.4L796.3 1139.5L795.2 1140.6L794.0 1141.7L792.9 1142.8L791.8 1143.8L790.6 1144.8L789.6 1145.7L788.5 1146.6L787.1 1147.7L785.8 1148.8L784.4 1149.7L783.1 1150.7L781.9 1151.6L780.6 1152.4L779.3 1153.3L778.1 1154.1L776.8 1154.9L775.6 1155.7L774.3 1156.5L773.0 1157.4L771.7 1158.3L770.4 1159.1L769.2 1160.0L767.9 1160.9L766.6 1161.7L765.3 1162.6L764.1 1163.4L762.8 1164.3L761.5 1165.1L760.2 1165.9L758.8 1166.7L757.5 1167.5L756.1 1168.3L754.8 1169.0L753.4 1169.8L752.0 1170.5L750.6 1171.2L749.2 1171.9L747.8 1172.6L746.3 1173.3L744.9 1174.0L743.4 1174.7L742.0 1175.3L740.5 1176.0L739.1 1176.6L737.7 1177.2L736.3 1177.7L734.9 1178.3L733.5 1178.8L732.0 1179.4L730.6 1179.9L729.1 1180.4L727.7 1181.0L726.2 1181.5L724.8 1182.0L723.3 1182.5L721.9 1183.0L720.5 1183.5L719.0 1184.0L717.6 1184.5L716.2 1185.1L714.7 1185.6L713.3 1186.1L711.9 1186.6L710.5 1187.1L709.0 1187.5L707.6 1188.0L706.2 1188.4L704.7 1188.8L703.3 1189.2L701.7 1189.6L700.2 1189.9L698.6 1190.3L697.0 1190.6L695.4 1190.9L693.8 1191.1L692.2 1191.4L690.7 1191.6L689.1 1191.8L687.6 1192.0L686.1 1192.2L684.7 1192.3L683.0 1192.4L681.4 1192.5L679.8 1192.6L678.3 1192.6L676.8 1192.6L675.2 1192.6L673.7 1192.6L672.2 1192.5L670.7 1192.4L669.2 1192.3L667.7 1192.2L666.2 1192.0L664.7 1191.9L663.2 1191.7L661.7 1191.5L660.2 1191.3L658.7 1191.0L657.1 1190.7L655.5 1190.4L653.8 1190.0L652.5 1189.7L651.1 1189.3L649.7 1188.9L648.3 1188.4L646.9 1188.0L645.4 1187.5L644.0 1187.0L642.5 1186.5L641.0 1186.0L639.6 1185.4L638.1 1184.9L636.6 1184.3L635.2 1183.8L633.8 1183.3L632.3 1182.7L630.9 1182.1L629.5 1181.5L628.0 1180.9L626.6 1180.3L625.2 1179.7L623.8 1179.1L622.3 1178.5L620.9 1177.9L619.5 1177.3L618.0 1176.6L616.6 1176.0L615.2 1175.4L613.7 1174.7L612.3 1174.1L610.9 1173.4L609.4 1172.7L608.0 1172.0L606.6 1171.4L605.2 1170.7L603.7 1170.0L602.3 1169.4L600.9 1168.7L599.4 1168.1L598.0 1167.5L596.6 1166.9L595.1 1166.3L593.7 1165.7L592.3 1165.2L590.8 1164.6L589.4 1164.0L588.0 1163.5L586.6 1162.9L585.1 1162.4L583.7 1161.9L582.3 1161.4L580.8 1161.0L579.4 1160.5L577.8 1160.0L576.3 1159.6L574.7 1159.1L573.1 1158.7L571.5 1158.3L569.9 1157.9L568.3 1157.5L566.8 1157.2L565.2 1156.8L563.7 1156.5L562.2 1156.2L560.8 1155.9L559.1 1155.6L557.4 1155.3L555.8 1155.0L554.2 1154.7L552.6 1154.5L551.0 1154.3L549.5 1154.1L548.0 1154.0L546.6 1153.9L545.3 1153.9L543.5 1153.9L541.9 1154.1L540.4 1154.3L539.0 1154.5L537.6 1154.9L536.1 1155.4L534.5 1155.9L533.2 1156.4L531.9 1156.9L530.5 1157.5L529.1 1158.2L527.7 1158.9L526.3 1159.6L524.9 1160.4L523.5 1161.3L522.1 1162.1L520.9 1162.9L519.6 1163.7L518.3 1164.6L517.1 1165.4L515.8 1166.4L514.5 1167.3L513.3 1168.3L512.1 1169.3L510.9 1170.3L509.7 1171.4L508.6 1172.5L507.5 1173.7L506.5 1174.9L505.5 1176.2L504.5 1177.5L503.5 1178.7L502.4 1180.0L501.3 1181.3L500.2 1182.6L498.9 1183.8L497.8 1184.8L496.6 1185.8L495.4 1186.9L494.1 1187.9L492.8 1189.0L491.4 1190.0L490.1 1191.0L488.7 1192.0L487.4 1192.9L486.0 1193.8L484.7 1194.6L483.4 1195.4L482.0 1196.2L480.4 1196.9L478.9 1197.6L477.3 1198.3L475.8 1198.9L474.3 1199.4L472.8 1200.0L471.4 1200.4L470.1 1200.9L468.9 1201.3L467.9 1201.6L465.5 1202.3L464.3 1202.4L462.4 1202.5L461.1 1202.7L459.6 1203.0L458.0 1203.2L456.4 1203.5L454.7 1203.7L453.0 1203.8L451.5 1203.8L449.8 1203.6L448.1 1203.3L446.5 1202.9L444.9 1202.4L443.3 1201.9L441.7 1201.3L440.3 1200.8L438.8 1200.2L437.2 1199.5L435.8 1198.9L434.4 1198.2L433.1 1197.6L432.0 1197.0L430.4 1195.9L429.3 1194.9L427.8 1193.4L426.9 1192.6L425.9 1191.7L424.7 1190.7L423.5 1189.6L422.3 1188.5L421.1 1187.4L420.0 1186.3L419.0 1185.2L418.0 1184.0L417.0 1182.8L416.1 1181.5L415.2 1180.3L414.4 1179.0L413.6 1177.7L412.8 1176.4L412.1 1175.1L411.3 1173.7L410.7 1172.3L410.0 1170.9L409.4 1169.5L408.8 1168.0L408.2 1166.6L407.6 1165.2L407.1 1163.8L406.5 1162.3L406.0 1160.9L405.5 1159.4L405.0 1157.9L404.5 1156.3L404.0 1154.9L403.6 1153.4L403.2 1151.8L402.7 1150.3L402.3 1148.7L401.8 1147.1L401.4 1145.5L401.0 1144.0L400.6 1142.5L400.2 1140.9L399.8 1139.4L399.5 1137.9L399.1 1136.4L398.7 1134.9L398.4 1133.4L398.0 1132.0L397.6 1130.4L397.2 1128.9L396.8 1127.5L396.4 1126.0L396.0 1124.6L395.6 1123.1L395.2 1121.6L394.8 1120.0L394.4 1118.4L393.9 1116.8L393.5 1115.1L393.1 1113.5L392.6 1111.8L392.1 1110.2L391.6 1108.8L391.2 1107.3L390.7 1105.9L390.2 1104.5L389.7 1103.1L389.1 1101.7L388.6 1100.3L388.0 1098.9L387.3 1097.3L386.6 1095.8L385.9 1094.3L385.2 1092.8L384.4 1091.3L383.6 1089.9L382.8 1088.5L381.8 1087.0L380.8 1085.6L379.8 1084.2L378.8 1082.9L377.7 1081.6L376.6 1080.3L375.4 1079.0L374.2 1077.7L373.0 1076.4L371.8 1075.1L370.6 1074.0L369.4 1073.0L367.8 1071.6L366.2 1070.5L364.7 1069.6L363.2 1069.4L361.8 1069.9L360.4 1070.9L359.1 1072.4L358.0 1074.1L357.4 1075.4L356.8 1076.8L356.3 1078.4L355.9 1080.1L355.5 1081.7L355.0 1083.4L354.6 1084.8L354.2 1086.2L353.8 1087.6L353.5 1089.0L353.1 1090.5L352.7 1092.1L352.4 1093.7L352.1 1095.1L351.9 1096.5L351.6 1098.0L351.4 1099.6L351.2 1101.1L350.9 1102.7L350.7 1104.2L350.5 1105.7L350.3 1107.1L350.1 1108.8L349.8 1110.5L349.6 1112.1L349.4 1113.7L349.2 1115.3L349.0 1116.9L348.8 1118.5L348.6 1120.0L348.4 1121.4L348.2 1122.9L348.0 1124.4L347.8 1125.9L347.6 1127.4L347.4 1129.0L347.2 1130.5L347.0 1132.1L346.8 1133.6L346.7 1135.2L346.5 1136.8L346.3 1138.5L346.1 1140.1L345.9 1141.7L345.7 1143.3L345.5 1144.9L345.2 1146.5L344.9 1148.1L344.7 1149.7L344.4 1151.4L344.1 1153.0L343.8 1154.6L343.6 1156.3L343.4 1157.8L343.2 1159.4L343.1 1160.9L342.9 1162.5L342.7 1164.1L342.6 1165.7L342.4 1167.2L342.2 1168.7L342.0 1170.2L341.7 1171.8L341.4 1173.2L341.1 1174.6L340.8 1176.0L340.5 1177.4L340.2 1178.9L339.8 1180.4L339.5 1182.0L339.2 1183.4L339.0 1184.9L338.7 1186.4L338.5 1188.0L338.2 1189.6L337.9 1191.2L337.7 1192.8L337.4 1194.3L337.2 1195.8L336.9 1197.1L336.5 1198.8L336.2 1200.4L335.9 1201.8L335.5 1203.2L335.2 1204.5L334.8 1206.0L334.3 1207.5L333.9 1209.0L333.4 1210.5L332.9 1212.0L332.4 1213.6L331.9 1215.2L331.3 1216.7L330.8 1218.3L330.2 1219.8L329.6 1221.3L329.0 1222.7L328.4 1224.2L327.7 1225.6L327.1 1227.0L326.4 1228.4L325.7 1229.8L325.0 1231.2L324.3 1232.6L323.5 1234.0L322.8 1235.4L322.0 1236.8L321.2 1238.1L320.4 1239.3L319.6 1240.5L318.8 1241.5L317.5 1242.8L316.1 1243.9L314.7 1244.8L313.2 1245.5L311.6 1246.2L310.2 1246.7L308.7 1247.1L307.1 1247.5L305.6 1247.7L303.9 1248.0L302.3 1248.2L300.6 1248.4L298.9 1248.6L297.2 1248.7L295.5 1248.8L293.7 1248.8L292.0 1248.8L290.5 1248.7L289.0 1248.5L287.5 1248.3L286.0 1248.1L284.5 1247.8L283.0 1247.5L281.6 1247.2L280.0 1246.8L278.3 1246.3L276.8 1245.8L275.2 1245.3L273.7 1244.7L272.3 1244.1L270.7 1243.4L269.3 1242.6L267.9 1241.8L266.5 1240.8L265.1 1239.5L264.2 1238.5L263.3 1237.3L262.4 1236.0L261.4 1234.7L260.5 1233.3L259.5 1231.9L258.5 1230.5L257.4 1229.1L256.3 1227.9L255.1 1226.5L253.7 1225.1L252.4 1223.7L251.1 1222.4L249.8 1221.1L248.7 1220.0L247.7 1219.0L247.0 1218.3" stroke-width="3.7" stroke-dasharray="15.8 5.5" stroke-dashoffset="19.04"/>
</g>
</svg>
</body></html>
